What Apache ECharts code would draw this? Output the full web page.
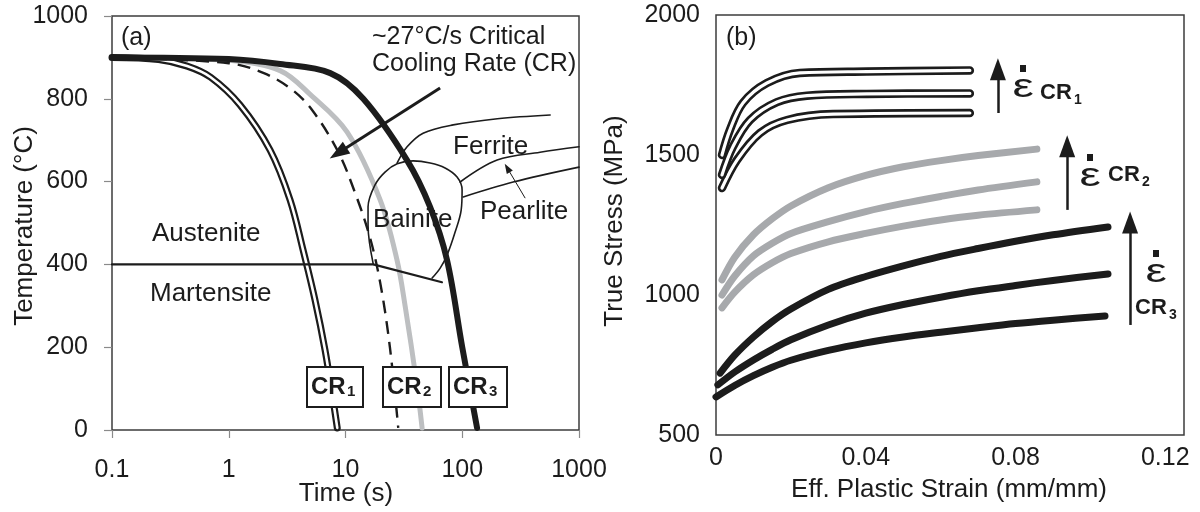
<!DOCTYPE html>
<html>
<head>
<meta charset="utf-8">
<script src="https://cdn.jsdelivr.net/npm/echarts@6/dist/echarts.min.js"></script>
<style>
  html, body { margin: 0; padding: 0; background: #fff; }
  #chart { width: 1200px; height: 512px; }
</style>
</head>
<body>
<div id="chart"></div>
<script>
// ---------- Panel (a): continuous cooling transformation diagram ----------
// time in seconds (log axis), temperature in °C
const cr1Cooling = [[0.1,900],[0.25,895],[0.44,879],[0.7,852],[1.25,785],[2.26,676],[3.35,556],[4.33,435],[5.48,314],[6.68,193],[7.83,72],[8.5,5]];
const criticalCooling = [[0.1,900],[1,886],[2,862],[3.56,820],[5.27,770],[8.65,672],[12,575],[16.2,465],[20,350],[24,200],[28.3,5]];
const cr2Cooling = [[0.1,900],[1,893],[2.75,868],[5,810],[10.3,720],[19.8,556],[27.6,411],[32.4,300],[40.7,113],[45.3,5]];
const cr3Cooling = [[0.1,900],[1,896],[2.75,884],[7.4,862],[14.2,800],[33.6,652],[53,539],[74,411],[100,200],[134,5]];
const martensiteStart = [[0.1,400],[17.3,400],[67,357]];
const bainiteRegion = [[17.3,400],[15.6,495],[15.6,539],[17.9,592],[21.8,623],[27.7,643],[37.9,650],[53.1,645],[71.3,633],[90.3,611],[99.7,580],[97.9,531],[86.9,478],[74.3,423],[64.7,391],[55.2,367]];
const ferriteStart = [[27.7,645],[33.7,684],[46.2,717],[83.6,737],[200,752],[566,761]];
const pearliteStart = [[95.9,599],[199,652],[464,671],[1000,684]];
const pearliteFinish = [[102,563],[273,599],[1000,635]];
const criticalArrow = [[64.6,826],[8.65,669]];
const pearliteArrow = [[346,560],[243,633]];
const timeRange = [0.1, 1000];
const tempRange = [0, 1000, 200];

// ---------- Panel (b): flow curves, effective plastic strain vs true stress (MPa) ----------
const cr1Flow = [
  [[0.0016,1500],[0.0037,1589],[0.0072,1686],[0.0136,1757],[0.0224,1793],[0.0403,1798],[0.0678,1802]],
  [[0.0016,1429],[0.0045,1529],[0.0091,1625],[0.0163,1689],[0.0243,1712],[0.0403,1718],[0.0678,1720]],
  [[0.0016,1382],[0.0056,1482],[0.0118,1579],[0.0190,1625],[0.0313,1646],[0.0678,1650]]
];
const cr2Flow = [
  [[0.0016,1054],[0.005,1135],[0.01,1215],[0.015,1272],[0.02,1318],[0.03,1383],[0.04,1427],[0.05,1458],[0.06,1480],[0.07,1498],[0.0857,1521]],
  [[0.0016,1000],[0.005,1068],[0.01,1140],[0.015,1185],[0.02,1220],[0.03,1262],[0.04,1298],[0.05,1327],[0.06,1352],[0.07,1375],[0.0857,1404]],
  [[0.0016,954],[0.005,1010],[0.01,1072],[0.015,1115],[0.02,1148],[0.03,1190],[0.04,1220],[0.05,1246],[0.06,1268],[0.07,1285],[0.0857,1304]]
];
const cr3Flow = [
  [[0.0011,721],[0.005,785],[0.01,850],[0.015,905],[0.02,950],[0.03,1020],[0.04,1066],[0.05,1104],[0.06,1138],[0.07,1166],[0.08,1192],[0.09,1215],[0.1047,1243]],
  [[0.0005,679],[0.005,725],[0.01,768],[0.015,806],[0.02,840],[0.03,893],[0.04,935],[0.05,966],[0.06,992],[0.07,1015],[0.08,1034],[0.09,1052],[0.1047,1075]],
  [[0.0,636],[0.005,677],[0.01,712],[0.015,742],[0.02,767],[0.03,802],[0.04,829],[0.05,850],[0.06,867],[0.07,883],[0.08,898],[0.09,910],[0.1039,925]]
];
// strain-rate arrows (tail, head) for each cooling-rate group
const rateArrows = [
  [[0.0753,1650],[0.0753,1806]],
  [[0.0938,1304],[0.0938,1531]],
  [[0.1106,893],[0.1106,1259]]
];
const strainRange = [0, 0.125, 0.04];
const stressRange = [500, 2000, 500];

const FONT = '"Liberation Sans", Arial, Helvetica, sans-serif';
const INK = '#1c1c1c';
const FRAME = '#3c3c3c';

function curve(data, idx, color, width, extra) {
  return Object.assign({
    type: 'line', xAxisIndex: idx, yAxisIndex: idx, data: data,
    symbol: 'none', showSymbol: false, smooth: 0.35, silent: true, animation: false,
    lineStyle: { color: color, width: width, cap: 'round', join: 'round' }
  }, extra || {});
}

function arrows(list, idx, width, size) {
  return {
    type: 'line', xAxisIndex: idx, yAxisIndex: idx, data: [], silent: true, animation: false,
    markLine: {
      silent: true, animation: false, symbol: ['none', 'triangle'], symbolSize: size,
      label: { show: false },
      lineStyle: { color: INK, width: width, type: 'solid' },
      emphasis: { disabled: true },
      data: list.map(a => [{ coord: a[0] }, { coord: a[1] }])
    }
  };
}

function text(x, y, s, size, extra) {
  const o = extra || {};
  return {
    type: 'text', x: x, y: y, z: o.z != null ? o.z : 50, rotation: o.rotation || 0,
    scaleX: o.scaleX || 1,
    style: {
      text: s, fill: INK,
      font: (o.bold ? 'bold ' : '') + size + 'px ' + FONT,
      textAlign: o.align || 'left', align: o.align || 'left',
      textVerticalAlign: 'middle', verticalAlign: 'middle'
    }
  };
}

function crBox(x, y, w, h, sub) {
  return [
    { type: 'rect', z: 60, shape: { x: x, y: y, width: w, height: h }, style: { fill: '#fff', stroke: INK, lineWidth: 2 } },
    text(x + 4, y + 20, 'CR', 24, { bold: true, z: 61 }),
    text(x + 40, y + 25, sub, 15, { bold: true, z: 61 })
  ];
}

function epsDot(x, y, sub, crX, crY) {
  return [
    text(x, y, 'ε', 34, { align: 'center', scaleX: 1.4 }),
    { type: 'rect', z: 50, shape: { x: x - 3, y: y - 23, width: 6, height: 7 }, style: { fill: INK } },
    text(crX, crY, 'CR', 22, { bold: true }),
    text(crX + 34, crY + 7, sub, 14, { bold: true })
  ];
}

const series = [];
// panel (a)
series.push(curve(cr1Cooling, 0, INK, 7, { z: 3 }));
series.push(curve(cr1Cooling, 0, '#fff', 2.6, { z: 3 }));
series.push(curve(criticalCooling, 0, INK, 2.4, { z: 3, lineStyle: { color: INK, width: 2.4, type: [13, 8], cap: 'butt' } }));
series.push(curve(cr2Cooling, 0, '#bdbfc1', 5, { z: 2 }));
series.push(curve(martensiteStart, 0, INK, 2.2, { smooth: false, z: 3 }));
series.push(curve(bainiteRegion, 0, INK, 1.6, { z: 3 }));
series.push(curve(ferriteStart, 0, INK, 1.6, { z: 3 }));
series.push(curve(pearliteStart, 0, INK, 1.6, { z: 3 }));
series.push(curve(pearliteFinish, 0, INK, 1.6, { z: 3 }));
series.push(curve(cr3Cooling, 0, INK, 6, { z: 6 }));
series.push(arrows([criticalArrow], 0, 3, [14, 20]));
series.push(arrows([pearliteArrow], 0, 1, [7, 10]));
// panel (b)
for (let i = cr1Flow.length - 1; i >= 0; i--) {
  series.push(curve(cr1Flow[i], 1, INK, 8.5, { z: 3 }));
  series.push(curve(cr1Flow[i], 1, '#fff', 3.2, { z: 3 }));
}
cr2Flow.forEach(d => series.push(curve(d, 1, '#a7a9ac', 7, { z: 3, smooth: 0.3 })));
cr3Flow.forEach(d => series.push(curve(d, 1, INK, 7, { z: 3, smooth: 0.3 })));
series.push(arrows(rateArrows, 1, 2.5, [16, 22]));

const axisText = { color: INK, fontSize: 25, fontFamily: FONT };

const option = {
  backgroundColor: '#fff',
  animation: false,
  grid: [
    { left: 112, top: 16, width: 467, height: 414, show: true, borderColor: FRAME, borderWidth: 1.5, backgroundColor: 'transparent' },
    { left: 716, top: 15, width: 468, height: 420, show: true, borderColor: FRAME, borderWidth: 1.5, backgroundColor: 'transparent' }
  ],
  xAxis: [
    {
      type: 'log', logBase: 10, gridIndex: 0, min: timeRange[0], max: timeRange[1],
      axisLine: { show: false }, splitLine: { show: false }, minorTick: { show: false },
      axisTick: { show: true, inside: false, length: 8, lineStyle: { color: '#8a8a8a', width: 1.2 } },
      axisLabel: Object.assign({ margin: 28, formatter: v => String(+(+v).toPrecision(3)) }, axisText)
    },
    {
      type: 'value', gridIndex: 1, min: strainRange[0], max: strainRange[1], interval: strainRange[2],
      axisLine: { show: false }, splitLine: { show: false }, axisTick: { show: false },
      axisLabel: Object.assign({
        margin: 11, showMaxLabel: true,
        formatter: v => (v > 0.121 ? '' : (v === 0 ? '0' : (+v).toFixed(2)))
      }, axisText)
    }
  ],
  yAxis: [
    {
      type: 'value', gridIndex: 0, min: tempRange[0], max: tempRange[1], interval: tempRange[2],
      axisLine: { show: false }, splitLine: { show: false },
      axisTick: { show: true, inside: false, length: 8, lineStyle: { color: '#8a8a8a', width: 1.2 } },
      axisLabel: Object.assign({ margin: 24, formatter: v => String(v) }, axisText)
    },
    {
      type: 'value', gridIndex: 1, min: stressRange[0], max: stressRange[1], interval: stressRange[2],
      axisLine: { show: false }, splitLine: { show: false }, axisTick: { show: false },
      axisLabel: Object.assign({ margin: 16, formatter: v => String(v) }, axisText)
    }
  ],
  series: series,
  graphic: [].concat(
    [
      text(25, 226, 'Temperature (°C)', 26, { align: 'center', rotation: Math.PI / 2 }),
      text(346, 494, 'Time (s)', 26, { align: 'center' }),
      text(615, 221, 'True Stress (MPa)', 26, { align: 'center', rotation: Math.PI / 2 }),
      text(949, 490, 'Eff. Plastic Strain (mm/mm)', 26, { align: 'center' }),
      text(121, 38, '(a)', 25),
      text(372, 37, '~27°C/s Critical', 25),
      text(372, 64, 'Cooling Rate (CR)', 25),
      text(152, 234, 'Austenite', 26),
      text(150, 294, 'Martensite', 26),
      text(453, 147, 'Ferrite', 26),
      text(480, 212, 'Pearlite', 26),
      text(373, 220, 'Bainite', 26, { z: 4 }),
      text(726, 38, '(b)', 25)
    ],
    crBox(307, 367, 56, 40, '1'),
    crBox(383, 367, 58, 40, '2'),
    crBox(449, 367, 58, 40, '3'),
    epsDot(1023, 88, '1', 1040, 93),
    epsDot(1090, 177, '2', 1108, 175),
    epsDot(1156, 273, '3', 1135, 308)
  )
};

const chart = echarts.init(document.getElementById('chart'), null, { renderer: 'canvas' });
chart.setOption(option);
</script>
</body>
</html>
